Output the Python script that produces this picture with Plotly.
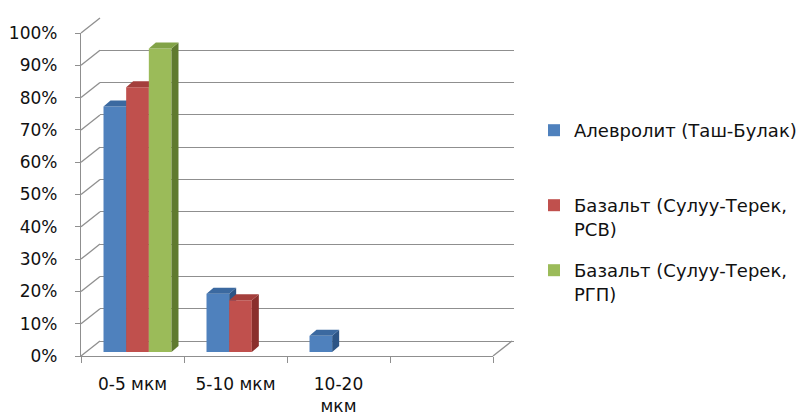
import plotly.graph_objects as go

# --- data -------------------------------------------------------------
categories = ["0-5 мкм", "5-10 мкм", "10-20<br>мкм", " "]
series_names = [
    "Алевролит (Таш-Булак)",
    "Базальт (Сулуу-Терек,<br>РСВ)",
    "Базальт (Сулуу-Терек,<br>РГП)",
]
aleurolite = [76, 18, 5, 0]
basalt_rsv = [82, 16, 0, 0]
basalt_rgp = [94, 0, 0, 0]
y_ticks = [0, 10, 20, 30, 40, 50, 60, 70, 80, 90, 100]
y_tick_text = [f"{v}%" for v in y_ticks]

# --- styling ----------------------------------------------------------
W, H = 798, 417
FONT = "DejaVu Sans"
GRID = "#8f8f8f"
TEXT = "#111111"
front_colors = ["#4f81bd", "#c0504d", "#9bbb59"]
top_colors = ["#3b69a0", "#a43f3c", "#82a347"]
side_colors = ["#2d5586", "#8a2f2c", "#5f7a2f"]

# pixel frame of the pseudo-3D box (front plane, back wall, bar plane)
FX0, FX1, FY0, FY1 = 81, 493, 356, 33          # front plane
DX, DY = 19, 15                                 # depth of the box
BX, BY = 5, 4                                   # depth of the bar row
FACE_DX, FACE_DY = 7, 6                         # bar extrusion


def px_x(x):
    return x / W


def px_y(y):
    return 1 - y / H


n_cat = len(categories)
x_range = [-0.5, n_cat - 0.5]
y_range = [0, 100]
cat_px = (FX1 - FX0) / n_cat
val_px = (FY0 - FY1) / 100
face_dx = FACE_DX / cat_px
face_dy = FACE_DY / val_px

bar_w = 0.22
n_ser = 3

fig = go.Figure()

# transparent anchors so the front frame and the back wall get drawn
fig.add_trace(go.Scatter(x=list(range(n_cat)), y=[0] * n_cat, mode="markers",
                         marker=dict(opacity=0), hoverinfo="skip",
                         showlegend=False, xaxis="x2", yaxis="y2"))
fig.add_trace(go.Scatter(x=categories, y=[0] * n_cat, mode="markers",
                         marker=dict(opacity=0), hoverinfo="skip",
                         showlegend=False, xaxis="x", yaxis="y"))

all_series = [aleurolite, basalt_rsv, basalt_rgp]
for s, vals in enumerate(all_series):
    xa = f"x{s + 3}"
    ya = f"y{s + 3}"
    centers = [c + (s - (n_ser - 1) / 2) * bar_w for c in range(n_cat)]
    # side and top faces of every column, built from its value
    sx, sy, tx, ty = [], [], [], []
    for c, v in zip(centers, vals):
        if v <= 0:
            continue
        xl, xr = c - bar_w / 2, c + bar_w / 2
        sx += [xr, xr + face_dx, xr + face_dx, xr, xr, None]
        sy += [0, face_dy, v + face_dy, v, 0, None]
        tx += [xl, xr, xr + face_dx, xl + face_dx, xl, None]
        ty += [v, v, v + face_dy, v + face_dy, v, None]
    fig.add_trace(go.Scatter(x=sx, y=sy, fill="toself", mode="lines",
                             line=dict(width=0), fillcolor=side_colors[s],
                             hoverinfo="skip", showlegend=False,
                             xaxis=xa, yaxis=ya))
    fig.add_trace(go.Scatter(x=tx, y=ty, fill="toself", mode="lines",
                             line=dict(width=0), fillcolor=top_colors[s],
                             hoverinfo="skip", showlegend=False,
                             xaxis=xa, yaxis=ya))
    fig.add_trace(go.Bar(x=centers, y=vals, width=bar_w, name=series_names[s],
                         marker=dict(color=front_colors[s], line=dict(width=0)),
                         legend="legend" if s == 0 else f"legend{s + 1}",
                         xaxis=xa, yaxis=ya))

# axes
hidden = dict(visible=False, fixedrange=True, automargin=False)
layout_axes = {}
# front plane: category axis + percent axis
layout_axes["xaxis"] = dict(
    domain=[px_x(FX0), px_x(FX1)], type="category",
    categoryorder="array", categoryarray=categories, range=x_range,
    tickson="boundaries", ticks="outside", ticklen=6, tickcolor=GRID,
    tickwidth=1.3, showline=True, linecolor=GRID, linewidth=1.3,
    showgrid=False, zeroline=False,
    tickfont=dict(family=FONT, size=17, color=TEXT),
    ticklabelstandoff=12, anchor="y", fixedrange=True, automargin=False,
)
layout_axes["yaxis"] = dict(
    domain=[px_y(FY0), px_y(FY1)], range=y_range, tickmode="array",
    tickvals=y_ticks, ticktext=y_tick_text, ticks="outside", ticklen=5,
    tickcolor=GRID, tickwidth=1.3,
    showline=True, linecolor=GRID, linewidth=1.3, showgrid=False,
    zeroline=False, tickfont=dict(family=FONT, size=17, color=TEXT),
    ticklabelstandoff=14, anchor="x", fixedrange=True, automargin=False,
)
# back wall with the gridlines
layout_axes["xaxis2"] = dict(domain=[px_x(FX0 + DX), px_x(FX1 + DX + 2)],
                             range=x_range, anchor="y2", **hidden)
layout_axes["yaxis2"] = dict(
    domain=[px_y(FY0 - DY), px_y(FY1 - DY)], range=y_range, tickvals=y_ticks,
    showgrid=True, gridcolor=GRID, gridwidth=1.3, zeroline=True,
    zerolinecolor=GRID, zerolinewidth=1.3, showticklabels=False, ticks="",
    showline=False, anchor="x2", fixedrange=True, automargin=False,
)
# one subplot per series so the columns stack in depth order
for s in range(n_ser):
    k = s + 3
    layout_axes[f"xaxis{k}"] = dict(domain=[px_x(FX0 + BX), px_x(FX1 + BX)],
                                    range=x_range, anchor=f"y{k}", **hidden)
    layout_axes[f"yaxis{k}"] = dict(domain=[px_y(FY0 - BY), px_y(FY1 - BY)],
                                    range=y_range, anchor=f"x{k}", **hidden)

# connectors between the front axes and the back wall
shapes = []
for v in y_ticks:
    yf = FY0 - v * val_px
    yb = yf - DY
    shapes.append(dict(type="line", xref="paper", yref="paper",
                       x0=px_x(FX0), y0=px_y(yf), x1=px_x(FX0 + DX), y1=px_y(yb),
                       line=dict(color=GRID, width=1.3), layer="below"))
shapes.append(dict(type="line", xref="paper", yref="paper",
                   x0=px_x(FX1), y0=px_y(FY0), x1=px_x(FX1 + DX), y1=px_y(FY0 - DY),
                   line=dict(color=GRID, width=1.3), layer="below"))

legend_font = dict(family=FONT, size=18, color=TEXT)
legend_common = dict(bgcolor="rgba(0,0,0,0)", font=legend_font,
                     xanchor="left", yanchor="top", valign="top",
                     itemclick=False, itemdoubleclick=False)

fig.update_layout(
    width=W, height=H, autosize=False,
    margin=dict(l=0, r=0, t=0, b=0, autoexpand=False),
    paper_bgcolor="white", plot_bgcolor="rgba(0,0,0,0)",
    barmode="overlay", showlegend=True,
    shapes=shapes,
    legend=dict(x=px_x(534), y=px_y(112), **legend_common),
    legend2=dict(x=px_x(534), y=px_y(187), **legend_common),
    legend3=dict(x=px_x(534), y=px_y(252), **legend_common),
    **layout_axes,
)

fig.write_html("out.html")
